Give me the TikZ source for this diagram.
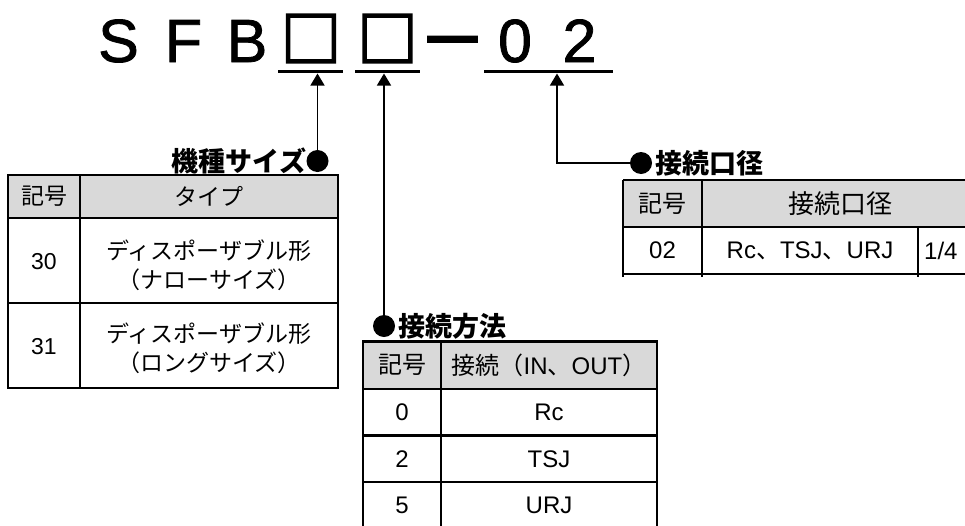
\documentclass[tikz,border=0pt]{standalone}
\usepackage{fontspec}
\setmainfont{Liberation Sans}
\newfontfamily\jp{Noto Sans CJK JP}
\newfontfamily\jpfat[FakeBold=4]{Noto Sans CJK JP}
\newfontfamily\ttlfont[FakeBold=1.3]{Liberation Sans}
\usetikzlibrary{arrows.meta}

\tikzset{
  ttl/.style={inner sep=0pt,anchor=base,font=\ttlfont\fontsize{61}{61}\selectfont},
  ttlbox/.style={inner sep=0pt,font=\jpfat\fontsize{60}{60}\selectfont},
  uline/.style={line width=3.5pt},
  bullet/.style={circle,fill=black,inner sep=0pt,minimum size=22pt},
  lbl/.style={inner sep=0pt,font=\jp\bfseries\fontsize{27}{27}\selectfont},
  lead/.style={line width=1.3pt,-{Triangle[width=14pt,length=12pt]}},
  tblline/.style={line width=2.4pt},
  hdr/.style={fill=black!15},
  cell/.style={inner sep=0pt,align=center},
  fA/.style={font=\fontsize{23}{29}\selectfont},
  fAjp/.style={font=\jp\fontsize{23}{29}\selectfont},
  fB/.style={font=\fontsize{24}{29}\selectfont},
  fBjp/.style={font=\jp\fontsize{24}{29}\selectfont},
}

\begin{document}
\begin{tikzpicture}[x=1pt,y=-1pt]
    \useasboundingbox (0,0) rectangle (965,525);
    % Model code
    \foreach \ch/\px [count=\i] in {S/118.5,F/183.5,B/247,0/515,2/579.5}
        \node (c\i) at (\px,62) [ttl] {\ch};
    \node (b1) at (311,38.5) [ttlbox] {□};
    \node (b2) at (387.5,38.5) [ttlbox] {□};
    \node (m) at (452.5,64) [ttlbox,font=\jpfat\fontsize{66}{66}\selectfont,anchor=base] {－};
    \draw[uline] (278,71.5) -- (343,71.5);
    \draw[uline] (355,71.5) -- (420,71.5);
    \draw[uline] (484,71.5) -- (613,71.5);
    \coordinate (t1) at (317.5,73.5);
    \coordinate (t2) at (384,73.5);
    \coordinate (t3) at (557,73.5);
    % Bullets and titles
    \node (d1) at (317.5,161) [bullet] {};
    \node (l1) at (d1.west) [lbl,anchor=east] {機種サイズ};
    \node (d2) at (384,326) [bullet] {};
    \node (l2) at ([xshift=3pt]d2.east) [lbl,anchor=west] {接続方法};
    \node (d3) at (641,163) [bullet] {};
    \node (l3) at ([xshift=3pt]d3.east) [lbl,anchor=west] {接続口径};
    % Leaders
    \path[lead] (d1) edge (t1);
    \path[lead] (d2) edge (t2);
    \draw[lead] (d3) -| (t3);

    % Size table
    \fill[hdr] (8,175) rectangle (338,218);
    \draw[tblline] (8,175) rectangle (338,388);
    \draw[tblline] (80,175) -- (80,388);
    \draw[tblline] (8,218) -- (338,218) (8,303) -- (338,303);
    \node (a0) at (44,196.5) [cell,fAjp] {記号};
    \node (a1) at (209,196.5) [cell,fAjp] {タイプ};
    \node (a2) at (44,262) [cell,fA] {30};
    \node (a3) at (209,265) [cell,fAjp] {ディスポーザブル形\\（ナローサイズ）};
    \node (a4) at (44,347) [cell,fA] {31};
    \node (a5) at (209,348) [cell,fAjp] {ディスポーザブル形\\（ロングサイズ）};

    % Connection table
    \fill[hdr] (363,341.5) rectangle (657,389);
    \draw[tblline] (363,530) -- (363,341.5) -- (657,341.5) -- (657,530);
    \draw[tblline] (441,341.5) -- (441,530);
    \draw[tblline] (363,389) -- (657,389) (363,435.5) -- (657,435.5) (363,482) -- (657,482);
    \node (k0) at (402,365) [cell,fBjp] {記号};
    \node (k1) at (549,365) [cell,fB] {{\jp 接続（}IN{\jp 、}OUT{\jp ）}};
    \node (k2) at (402,412) [cell,fB] {0};
    \node (k3) at (549,412) [cell,fB] {Rc};
    \node (k4) at (402,459) [cell,fB] {2};
    \node (k5) at (549,459) [cell,fB] {TSJ};
    \node (k6) at (402,505.5) [cell,fB] {5};
    \node (k7) at (549,505.5) [cell,fB] {URJ};

    % Port size table
    \fill[hdr] (623,180) rectangle (980,227);
    \draw[tblline] (623,180) -- (980,180) (623,227) -- (980,227) (623,274) -- (980,274);
    \draw[tblline] (623,180) -- (623,277) (702,180) -- (702,277) (918,227) -- (918,277);
    \node (p0) at (662.5,203.5) [cell,fBjp] {記号};
    \node (p1) at (840,203.5) [cell,fBjp,font=\jp\fontsize{26}{29}\selectfont] {接続口径};
    \node (p2) at (662.5,250.5) [cell,fB] {02};
    \node (p3) at (810,250.5) [cell,fB] {Rc{\jp 、}TSJ{\jp 、}URJ};
    \node (p4) at (924,250.5) [cell,fB,anchor=west] {1/4};
\end{tikzpicture}
\end{document}
